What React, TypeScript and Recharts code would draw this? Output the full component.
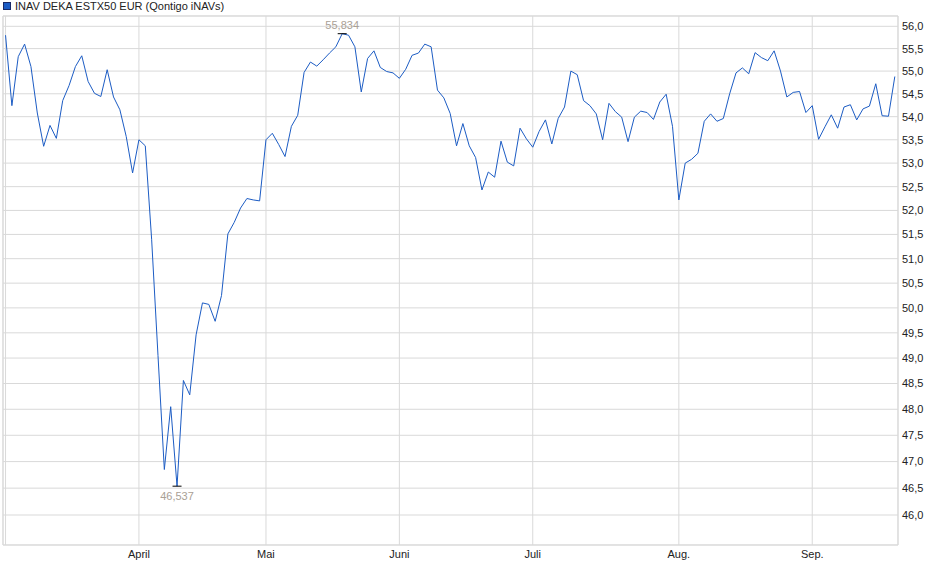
import React from 'react';
import { LineChart, Line, XAxis, YAxis, CartesianGrid, Legend, ReferenceArea } from 'recharts';

// Trading-day index (Mar 3 2025 = 0 ... Sep 18 2025 = 140)
const values: number[] = [
  55.80, 54.24, 55.32, 55.60, 55.10, 54.08, 53.36, 53.81, 53.53, 54.35,
  54.68, 55.10, 55.34, 54.77, 54.51, 54.44, 55.03, 54.43, 54.15, 53.57,
  52.79, 53.50, 53.37, 51.40, 49.05, 46.85, 48.05, 46.537, 48.56, 48.28,
  49.46, 50.10, 50.07, 49.73, 50.25, 51.51, 51.75, 52.05, 52.25, 52.22,
  52.20, 53.50, 53.64, 53.40, 53.14, 53.79, 54.03, 54.97, 55.20, 55.11,
  55.25, 55.40, 55.54, 55.834, 55.80, 55.54, 54.54, 55.28, 55.45, 55.08,
  54.99, 54.96, 54.84, 55.04, 55.35, 55.40, 55.60, 55.54, 54.58, 54.41,
  54.07, 53.37, 53.85, 53.37, 53.12, 52.43, 52.81, 52.70, 53.47, 53.02,
  52.94, 53.75, 53.52, 53.34, 53.68, 53.93, 53.41, 53.96, 54.21, 55.00,
  54.92, 54.35, 54.24, 54.06, 53.50, 54.29, 54.11, 53.99, 53.46, 53.99,
  54.12, 54.09, 53.94, 54.32, 54.49, 53.79, 52.22, 53.00, 53.08, 53.21,
  53.90, 54.06, 53.90, 53.96, 54.50, 54.96, 55.07, 54.94, 55.41, 55.30,
  55.23, 55.45, 55.00, 54.43, 54.53, 54.55, 54.09, 54.24, 53.51, 53.78,
  54.04, 53.75, 54.21, 54.26, 53.93, 54.17, 54.23, 54.72, 54.02, 54.01,
  54.88,
];

const monthTicks: number[] = [0, 21, 41, 62, 83, 106, 127];
const monthLabels: string[] = ['', 'April', 'Mai', 'Juni', 'Juli', 'Aug.', 'Sep.'];

const yTicks: number[] = [46, 46.5, 47, 47.5, 48, 48.5, 49, 49.5, 50, 50.5, 51, 51.5, 52, 52.5, 53, 53.5, 54, 54.5, 55, 55.5, 56];

const seriesName = 'INAV DEKA ESTX50 EUR (Qontigo iNAVs)';

const xDomain: [number, number] = [-0.4, 140.5];
const yDomain: [number, number] = [45.448, 56.233];

const data = values.map((v, i) => ({ i, v }));

const FONT = "'Liberation Sans', Arial, Helvetica, sans-serif";
const LINE_COLOR = '#1c5cc4';
const GRID_COLOR = '#d9d9d9';

const maxIdx = values.indexOf(Math.max(...values));
const minIdx = values.indexOf(Math.min(...values));

const fmt = (v: number, d: number) => v.toFixed(d).replace('.', ',');

const renderDot = (props: any) => {
  const { cx, cy, index } = props;
  if (index === maxIdx || index === minIdx) {
    const isMax = index === maxIdx;
    return (
      <g key={`ext-${index}`}>
        <line x1={cx - 4.5} x2={cx + 4.5} y1={cy} y2={cy} stroke="#000" strokeWidth={1} />
        <text
          x={cx}
          y={isMax ? cy - 4.2 : cy + 13.4}
          textAnchor="middle"
          fontFamily={FONT}
          fontSize={11}
          fill="#a9a095"
        >
          {fmt(values[index], 3)}
        </text>
      </g>
    );
  }
  return <g key={`d-${index}`} />;
};

const LegendContent = () => (
  <div
    style={{
      display: 'flex',
      alignItems: 'center',
      height: 12,
      fontFamily: FONT,
      fontSize: 11,
      color: '#222',
      whiteSpace: 'nowrap',
    }}
  >
    <span
      style={{
        display: 'inline-block',
        width: 6,
        height: 6,
        background: LINE_COLOR,
        border: '1px solid #1a2a66',
        marginLeft: 3,
        marginRight: 4,
      }}
    />
    {seriesName}
  </div>
);

export default function App() {
  return (
    <div style={{ position: 'absolute', left: 0, top: 0, width: 940, height: 579, background: '#fff' }}>
      <LineChart width={940} height={579} data={data} margin={{ top: 4, right: 0, bottom: 0, left: 3 }}>
        <Legend
          verticalAlign="top"
          align="left"
          height={12}
          wrapperStyle={{ top: 0, left: 0 }}
          content={<LegendContent />}
        />
        <CartesianGrid stroke={GRID_COLOR} strokeWidth={1} />
        <ReferenceArea
          x1={xDomain[0]}
          x2={xDomain[1]}
          y1={yDomain[0]}
          y2={yDomain[1]}
          fill="none"
          stroke={GRID_COLOR}
          strokeWidth={1}
          ifOverflow="visible"
        />
        <XAxis
          dataKey="i"
          type="number"
          domain={xDomain}
          allowDataOverflow
          ticks={monthTicks}
          interval={0}
          tickFormatter={(v: number) => monthLabels[monthTicks.indexOf(v)] ?? ''}
          tickLine={false}
          axisLine={false}
          tickSize={3}
          tickMargin={2}
          height={34}
          tick={{ fontSize: 11, fill: '#222', fontFamily: FONT }}
        />
        <YAxis
          orientation="right"
          type="number"
          scale="log"
          domain={yDomain}
          allowDataOverflow
          ticks={yTicks}
          interval={0}
          tickFormatter={(v: number) => fmt(v, 1)}
          tickLine={false}
          axisLine={false}
          tickSize={2}
          tickMargin={2}
          width={42}
          tick={{ fontSize: 11, fill: '#222', fontFamily: FONT, textAnchor: 'start' }}
        />
        <Line
          type="linear"
          dataKey="v"
          name={seriesName}
          stroke={LINE_COLOR}
          strokeWidth={1}
          dot={renderDot}
          activeDot={false}
          isAnimationActive={false}
        />
      </LineChart>
    </div>
  );
}
